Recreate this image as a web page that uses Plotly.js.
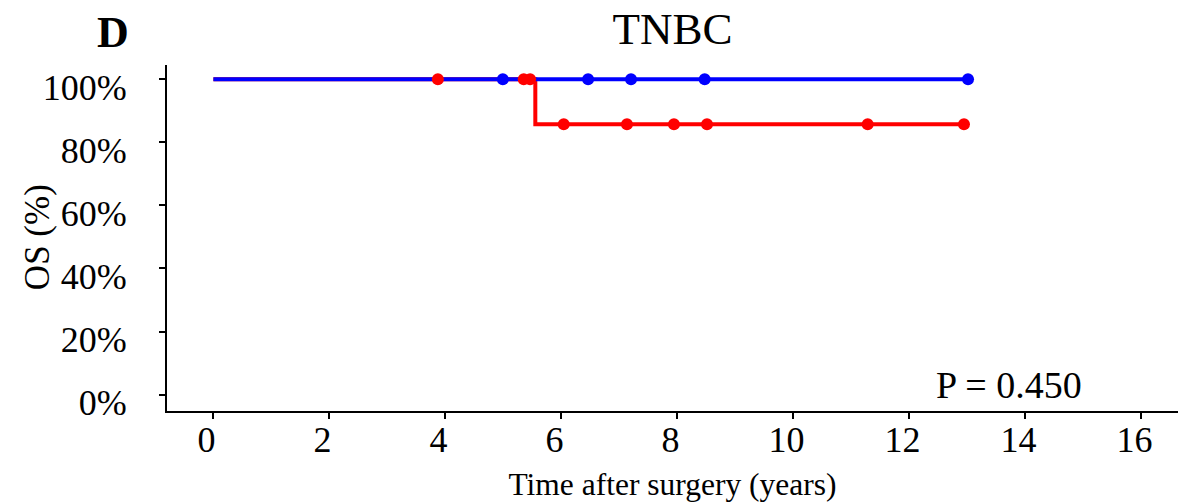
<!DOCTYPE html>
<html>
<head>
<meta charset="utf-8">
<script src="https://cdn.plot.ly/plotly-3.0.1.min.js"></script>
<style>html,body{margin:0;padding:0;background:#fff;}#chart{width:1181px;height:503px;}</style>
</head>
<body>
<div id="chart"></div>
<script>
// Kaplan-Meier step curves (time in years, survival in %)
var blueStepTime = [0, 13.01];
var blueStepSurv = [100, 100];
var redStepTime = [0, 5.55, 12.94];
var redStepSurv = [100, 85.7, 85.7];
// Censoring marks
var blueCensorTime = [4.99, 6.46, 7.20, 8.47, 13.01];
var blueCensorSurv = [100, 100, 100, 100, 100];
var redCensorTime = [3.87, 5.35, 5.46, 6.04, 7.13, 7.94, 8.51, 11.28, 12.94];
var redCensorSurv = [100, 100, 100, 85.7, 85.7, 85.7, 85.7, 85.7, 85.7];
var xTicks = [0, 2, 4, 6, 8, 10, 12, 14, 16];
var yTicks = [0, 20, 40, 60, 80, 100];
var yTickText = ['0%', '20%', '40%', '60%', '80%', '100%'];

var FONT = 'Liberation Serif, Times New Roman, serif';
var BLUE = '#0000ff', RED = '#ff0000';

var traces = [
  {x: redStepTime, y: redStepSurv, mode: 'lines', line: {shape: 'hv', color: RED, width: 4}, hoverinfo: 'skip'},
  {x: blueStepTime, y: blueStepSurv, mode: 'lines', line: {shape: 'hv', color: BLUE, width: 4}, hoverinfo: 'skip'},
  {x: redCensorTime, y: redCensorSurv, mode: 'markers', marker: {symbol: 'circle', size: 12, color: RED}},
  {x: blueCensorTime, y: blueCensorSurv, mode: 'markers', marker: {symbol: 'circle', size: 12, color: BLUE}}
];

var layout = {
  width: 1181, height: 503,
  margin: {l: 167, r: 3, t: 65, b: 92, pad: 0},
  paper_bgcolor: '#fff', plot_bgcolor: '#fff',
  showlegend: false,
  font: {family: FONT, color: '#000', size: 36},
  title: {text: 'TNBC', font: {family: FONT, size: 45, color: '#000'}, x: 0.5, xref: 'paper', xanchor: 'center', y: 0.944, yref: 'container', yanchor: 'middle'},
  xaxis: {
    range: [-0.8, 16.63], showgrid: false, zeroline: false,
    showline: true, linecolor: '#000', linewidth: 2,
    ticks: 'outside', ticklen: 6, tickwidth: 2, tickcolor: '#000',
    tickvals: xTicks, ticktext: xTicks.map(String),
    tickfont: {family: FONT, size: 36, color: '#000'},
    ticklabelshift: -7, ticklabelstandoff: -10,
    title: {text: 'Time after surgery (years)', font: {family: FONT, size: 31.5, color: '#000'}, standoff: 14}
  },
  yaxis: {
    range: [-5.2, 104.5], showgrid: false, zeroline: false,
    showline: true, linecolor: '#000', linewidth: 2,
    ticks: 'outside', ticklen: 6, tickwidth: 2, tickcolor: '#000',
    tickvals: yTicks, ticktext: yTickText,
    tickfont: {family: FONT, size: 36, color: '#000'},
    ticklabelshift: 8, ticklabelstandoff: 25
  },
  annotations: [
    {text: 'OS (%)', textangle: -90, xref: 'paper', yref: 'paper', x: (37 - 167) / 1011, y: (410.7 - 237) / 345.7, xanchor: 'center', yanchor: 'middle', showarrow: false, font: {family: FONT, size: 35, color: '#000'}},
    {text: '<b>D</b>', xref: 'paper', yref: 'paper', x: (113 - 167) / 1011, y: (410.7 - 33) / 345.7, xanchor: 'center', yanchor: 'middle', showarrow: false, font: {family: FONT, size: 44, color: '#000'}},
    {text: 'P = 0.450', xref: 'paper', yref: 'paper', x: (1009 - 167) / 1011, y: (410.7 - 385) / 345.7, xanchor: 'center', yanchor: 'middle', showarrow: false, font: {family: FONT, size: 38, color: '#000'}}
  ]
};

Plotly.newPlot('chart', traces, layout, {displayModeBar: false, staticPlot: true});
</script>
</body>
</html>
